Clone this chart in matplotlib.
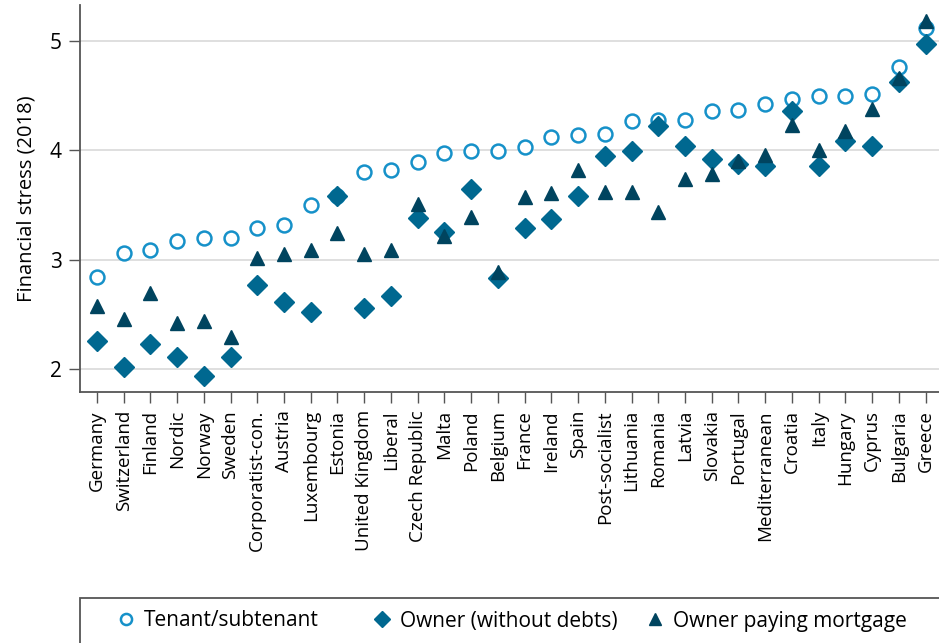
import matplotlib
matplotlib.use("Agg")
import matplotlib.pyplot as plt
from matplotlib.patches import Rectangle

plt.rcParams['font.family'] = ['Open Sans', 'DejaVu Sans']

# Data
countries = ['Germany', 'Switzerland', 'Finland', 'Nordic', 'Norway', 'Sweden',
             'Corporatist-con.', 'Austria', 'Luxembourg', 'Estonia', 'United Kingdom',
             'Liberal', 'Czech Republic', 'Malta', 'Poland', 'Belgium', 'France',
             'Ireland', 'Spain', 'Post-socialist', 'Lithuania', 'Romania', 'Latvia',
             'Slovakia', 'Portugal', 'Mediterranean', 'Croatia', 'Italy', 'Hungary',
             'Cyprus', 'Bulgaria', 'Greece']

tenant = [2.84, 3.06, 3.09, 3.17, 3.20, 3.20, 3.29, 3.32, 3.50, 3.58, 3.80,
          3.82, 3.89, 3.98, 3.99, 3.99, 4.03, 4.12, 4.14, 4.15, 4.27, 4.28, 4.28,
          4.36, 4.37, 4.42, 4.47, 4.50, 4.50, 4.52, 4.76, 5.12]

owner = [2.26, 2.02, 2.23, 2.11, 1.94, 2.11, 2.77, 2.61, 2.52, 3.58, 2.56,
         2.67, 3.38, 3.25, 3.65, 2.83, 3.29, 3.37, 3.58, 3.95, 3.99, 4.22, 4.04,
         3.92, 3.88, 3.86, 4.36, 3.86, 4.09, 4.04, 4.63, 4.97]

mortgage = [2.58, 2.46, 2.70, 2.42, 2.44, 2.29, 3.02, 3.05, 3.09, 3.24, 3.05,
            3.09, 3.51, 3.22, 3.39, 2.89, 3.57, 3.61, 3.82, 3.62, 3.62, 3.44, 3.74,
            3.78, 3.90, 3.96, 4.23, 4.00, 4.18, 4.38, 4.66, 5.18]

yticks = [2, 3, 4, 5]

c_tenant = '#1691c9'
c_owner = '#006890'
c_mortgage = '#00445f'

W, H = 939, 643
fig = plt.figure(figsize=(W / 100, H / 100), dpi=100)
ax = fig.add_axes([80 / W, 1 - 392 / H, (W - 80) / W, (392 - 5) / H])

x = list(range(len(countries)))

ax.plot(x, tenant, linestyle='none', marker='o', ms=10, mfc='white',
        mec=c_tenant, mew=1.8, label='Tenant/subtenant', zorder=3)
ax.plot(x, owner, linestyle='none', marker='D', ms=10, color=c_owner,
        mec=c_owner, label='Owner (without debts)', zorder=4)
ax.plot(x, mortgage, linestyle='none', marker='^', ms=10, color=c_mortgage,
        mec=c_mortgage, label='Owner paying mortgage', zorder=5)

# a bit of room on the right so the last label is not clipped
ax.set_xlim(-0.63, 31.5)
ax.set_ylim(1.79, 5.33)
ax.set_yticks(yticks)
ax.set_yticklabels([str(v) for v in yticks], fontsize=15)
ax.set_xticks(x)
ax.set_xticklabels(countries, rotation=90, fontsize=13.5)
ax.set_ylabel('Financial stress (2018)', fontsize=14.5, labelpad=10)

ax.grid(axis='y', color='#dcdcdc', linewidth=1.3)
ax.set_axisbelow(True)
for side in ['top', 'right']:
    ax.spines[side].set_visible(False)
for side in ['left', 'bottom']:
    ax.spines[side].set_color('#555555')
    ax.spines[side].set_linewidth(1.3)
ax.tick_params(axis='x', length=8, width=1.0, color='#555555', pad=5)
ax.tick_params(axis='y', length=8, width=1.0, color='#555555', pad=5)

# legend box, running off the right and bottom edges
fig.patches.append(Rectangle((80 / W, -0.05), 1.0, 1 - 598 / H + 0.05,
                             transform=fig.transFigure, fill=False,
                             edgecolor='#555555', linewidth=1.3))

# one legend per entry so each sits where it does in the reference
handles, labels = ax.get_legend_handles_labels()
legend_x = [116, 372, 645]
for h, lab, lx in zip(handles, labels, legend_x):
    leg = fig.legend([h], [lab], loc='center left', frameon=False,
                     bbox_to_anchor=(lx / W, 1 - 621 / H), fontsize=15,
                     handlelength=1.0, handletextpad=0.35, borderpad=0,
                     borderaxespad=0, markerscale=0.8)

fig.savefig('out.png', dpi=100)
